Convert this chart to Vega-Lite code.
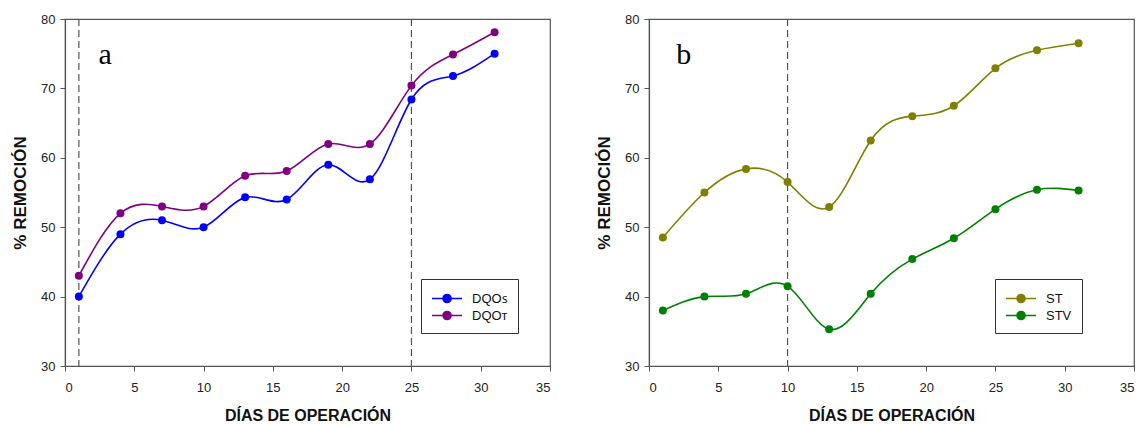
{
  "$schema": "https://vega.github.io/schema/vega-lite/v6.json",
  "padding": {"left": 10, "top": 12, "right": 5, "bottom": 5},
  "background": "white",
  "spacing": 42,
  "config": {
    "font": "Liberation Sans",
    "view": {"stroke": "#555", "strokeWidth": 1.2},
    "axis": {
      "grid": false,
      "domainColor": "#555",
      "domainWidth": 1.2,
      "tickColor": "#555",
      "tickSize": 5,
      "labelFont": "Liberation Sans",
      "labelFontSize": 13,
      "labelColor": "#222",
      "titleFont": "Liberation Sans",
      "titleFontSize": 16,
      "titleFontWeight": "bold",
      "titleColor": "#111"
    },
    "axisY": {"titleFontSize": 17},
    "legend": {
      "labelFont": "Liberation Sans",
      "labelFontSize": 13,
      "labelColor": "#111"
    }
  },
  "datasets": {
    "series": [
      {"panel": "a", "serie": "DQOs", "day": 1, "value": 40.0},
      {"panel": "a", "serie": "DQOs", "day": 4, "value": 49.0},
      {"panel": "a", "serie": "DQOs", "day": 7, "value": 51.0},
      {"panel": "a", "serie": "DQOs", "day": 10, "value": 50.0},
      {"panel": "a", "serie": "DQOs", "day": 13, "value": 54.3},
      {"panel": "a", "serie": "DQOs", "day": 16, "value": 54.0},
      {"panel": "a", "serie": "DQOs", "day": 19, "value": 59.0},
      {"panel": "a", "serie": "DQOs", "day": 22, "value": 56.9},
      {"panel": "a", "serie": "DQOs", "day": 25, "value": 68.4},
      {"panel": "a", "serie": "DQOs", "day": 28, "value": 71.8},
      {"panel": "a", "serie": "DQOs", "day": 31, "value": 75.0},
      {"panel": "a", "serie": "DQOT", "day": 1, "value": 43.0},
      {"panel": "a", "serie": "DQOT", "day": 4, "value": 52.0},
      {"panel": "a", "serie": "DQOT", "day": 7, "value": 53.0},
      {"panel": "a", "serie": "DQOT", "day": 10, "value": 53.0},
      {"panel": "a", "serie": "DQOT", "day": 13, "value": 57.4},
      {"panel": "a", "serie": "DQOT", "day": 16, "value": 58.1},
      {"panel": "a", "serie": "DQOT", "day": 19, "value": 62.0},
      {"panel": "a", "serie": "DQOT", "day": 22, "value": 62.0},
      {"panel": "a", "serie": "DQOT", "day": 25, "value": 70.4},
      {"panel": "a", "serie": "DQOT", "day": 28, "value": 74.9},
      {"panel": "a", "serie": "DQOT", "day": 31, "value": 78.1},
      {"panel": "b", "serie": "ST", "day": 1, "value": 48.5},
      {"panel": "b", "serie": "ST", "day": 4, "value": 55.0},
      {"panel": "b", "serie": "ST", "day": 7, "value": 58.4},
      {"panel": "b", "serie": "ST", "day": 10, "value": 56.5},
      {"panel": "b", "serie": "ST", "day": 13, "value": 52.9},
      {"panel": "b", "serie": "ST", "day": 16, "value": 62.5},
      {"panel": "b", "serie": "ST", "day": 19, "value": 66.0},
      {"panel": "b", "serie": "ST", "day": 22, "value": 67.5},
      {"panel": "b", "serie": "ST", "day": 25, "value": 72.9},
      {"panel": "b", "serie": "ST", "day": 28, "value": 75.5},
      {"panel": "b", "serie": "ST", "day": 31, "value": 76.5},
      {"panel": "b", "serie": "STV", "day": 1, "value": 38.0},
      {"panel": "b", "serie": "STV", "day": 4, "value": 40.0},
      {"panel": "b", "serie": "STV", "day": 7, "value": 40.4},
      {"panel": "b", "serie": "STV", "day": 10, "value": 41.5},
      {"panel": "b", "serie": "STV", "day": 13, "value": 35.3},
      {"panel": "b", "serie": "STV", "day": 16, "value": 40.4},
      {"panel": "b", "serie": "STV", "day": 19, "value": 45.4},
      {"panel": "b", "serie": "STV", "day": 22, "value": 48.4},
      {"panel": "b", "serie": "STV", "day": 25, "value": 52.6},
      {"panel": "b", "serie": "STV", "day": 28, "value": 55.4},
      {"panel": "b", "serie": "STV", "day": 31, "value": 55.3}
    ],
    "marks": [
      {"panel": "a", "day": 1},
      {"panel": "a", "day": 25},
      {"panel": "b", "day": 10}
    ],
    "letters": [
      {"panel": "a", "day": 2.9, "value": 73.5},
      {"panel": "b", "day": 2.5, "value": 73.5}
    ]
  },
  "hconcat": [
    {
      "width": 485,
      "height": 347,
      "layer": [
        {
          "data": {"name": "marks"},
          "transform": [{"filter": "datum.panel === 'a'"}],
          "mark": {"type": "rule", "color": "#555", "strokeDash": [7, 4], "strokeWidth": 1.2},
          "encoding": {"x": {"field": "day", "type": "quantitative", "scale": {"domain": [0, 35]}}}
        },
        {
          "data": {"name": "letters"},
          "transform": [{"filter": "datum.panel === 'a'"}],
          "mark": {"type": "text", "font": "Liberation Serif", "fontSize": 30, "baseline": "alphabetic", "align": "center", "color": "#000"},
          "encoding": {
            "x": {"field": "day", "type": "quantitative", "scale": {"domain": [0, 35]}},
            "y": {"field": "value", "type": "quantitative", "scale": {"domain": [30, 80]}},
            "text": {"field": "panel"}
          }
        },
        {
          "data": {"name": "series"},
          "transform": [{"filter": "datum.panel === 'a'"}],
          "mark": {"type": "line", "interpolate": "natural", "strokeWidth": 1.6},
          "encoding": {
            "x": {"field": "day", "type": "quantitative", "scale": {"domain": [0, 35]},
                  "axis": {"title": "DÍAS DE OPERACIÓN", "values": [0,5,10,15,20,25,30,35], "labelPadding": 10, "titlePadding": 13}},
            "y": {"field": "value", "type": "quantitative", "scale": {"domain": [30, 80]},
                  "axis": {"title": "% REMOCIÓN", "values": [30,40,50,60,70,80], "labelPadding": 5, "titlePadding": 11}},
            "color": {"field": "serie", "type": "nominal",
                      "scale": {"domain": ["DQOs", "DQOT"], "range": ["#0000ff", "#800080"]},
                      "legend": {"title": null, "orient": "none", "legendX": 356, "legendY": 260,
                                 "strokeColor": "#333", "fillColor": "white", "padding": 10,
                                 "symbolType": "M-1,0L2.53,0M0.3,0A0.47,0.47,0,1,1,1.24,0A0.47,0.47,0,1,1,0.3,0Z",
                                 "symbolSize": 289, "symbolStrokeWidth": 1.6, "rowPadding": 0, "labelOffset": 22,
                                 "labelExpr": "datum.label === 'DQOs' ? 'DQOꜱ' : 'DQOᴛ'"}}
          }
        },
        {
          "data": {"name": "series"},
          "transform": [{"filter": "datum.panel === 'a'"}],
          "mark": {"type": "point", "filled": true, "size": 64, "opacity": 1},
          "encoding": {
            "x": {"field": "day", "type": "quantitative", "scale": {"domain": [0, 35]}},
            "y": {"field": "value", "type": "quantitative", "scale": {"domain": [30, 80]}},
            "color": {"field": "serie", "type": "nominal",
                      "scale": {"domain": ["DQOs", "DQOT"], "range": ["#0000ff", "#800080"]},
                      "legend": {"title": null, "orient": "none", "legendX": 356, "legendY": 260,
                                 "strokeColor": "#333", "fillColor": "white", "padding": 10,
                                 "symbolType": "M-1,0L2.53,0M0.3,0A0.47,0.47,0,1,1,1.24,0A0.47,0.47,0,1,1,0.3,0Z",
                                 "symbolSize": 289, "symbolStrokeWidth": 1.6, "rowPadding": 0, "labelOffset": 22,
                                 "labelExpr": "datum.label === 'DQOs' ? 'DQOꜱ' : 'DQOᴛ'"}}
          }
        }
      ]
    },
    {
      "width": 485,
      "height": 347,
      "layer": [
        {
          "data": {"name": "marks"},
          "transform": [{"filter": "datum.panel === 'b'"}],
          "mark": {"type": "rule", "color": "#555", "strokeDash": [7, 4], "strokeWidth": 1.2},
          "encoding": {"x": {"field": "day", "type": "quantitative", "scale": {"domain": [0, 35]}}}
        },
        {
          "data": {"name": "letters"},
          "transform": [{"filter": "datum.panel === 'b'"}],
          "mark": {"type": "text", "font": "Liberation Serif", "fontSize": 30, "baseline": "alphabetic", "align": "center", "color": "#000"},
          "encoding": {
            "x": {"field": "day", "type": "quantitative", "scale": {"domain": [0, 35]}},
            "y": {"field": "value", "type": "quantitative", "scale": {"domain": [30, 80]}},
            "text": {"field": "panel"}
          }
        },
        {
          "data": {"name": "series"},
          "transform": [{"filter": "datum.panel === 'b'"}],
          "mark": {"type": "line", "interpolate": "natural", "strokeWidth": 1.6},
          "encoding": {
            "x": {"field": "day", "type": "quantitative", "scale": {"domain": [0, 35]},
                  "axis": {"title": "DÍAS DE OPERACIÓN", "values": [0,5,10,15,20,25,30,35], "labelPadding": 10, "titlePadding": 13}},
            "y": {"field": "value", "type": "quantitative", "scale": {"domain": [30, 80]},
                  "axis": {"title": "% REMOCIÓN", "values": [30,40,50,60,70,80], "labelPadding": 5, "titlePadding": 11}},
            "color": {"field": "serie", "type": "nominal",
                      "scale": {"domain": ["ST", "STV"], "range": ["#808000", "#008000"]},
                      "legend": {"title": null, "orient": "none", "legendX": 346, "legendY": 260,
                                 "strokeColor": "#333", "fillColor": "white", "padding": 10,
                                 "symbolType": "M-1,0L2.53,0M0.3,0A0.47,0.47,0,1,1,1.24,0A0.47,0.47,0,1,1,0.3,0Z",
                                 "symbolSize": 289, "symbolStrokeWidth": 1.6, "rowPadding": 0, "labelOffset": 22}}
          }
        },
        {
          "data": {"name": "series"},
          "transform": [{"filter": "datum.panel === 'b'"}],
          "mark": {"type": "point", "filled": true, "size": 64, "opacity": 1},
          "encoding": {
            "x": {"field": "day", "type": "quantitative", "scale": {"domain": [0, 35]}},
            "y": {"field": "value", "type": "quantitative", "scale": {"domain": [30, 80]}},
            "color": {"field": "serie", "type": "nominal",
                      "scale": {"domain": ["ST", "STV"], "range": ["#808000", "#008000"]},
                      "legend": {"title": null, "orient": "none", "legendX": 346, "legendY": 260,
                                 "strokeColor": "#333", "fillColor": "white", "padding": 10,
                                 "symbolType": "M-1,0L2.53,0M0.3,0A0.47,0.47,0,1,1,1.24,0A0.47,0.47,0,1,1,0.3,0Z",
                                 "symbolSize": 289, "symbolStrokeWidth": 1.6, "rowPadding": 0, "labelOffset": 22}}
          }
        }
      ]
    }
  ],
  "resolve": {"scale": {"color": "independent", "x": "independent", "y": "independent"}}
}
